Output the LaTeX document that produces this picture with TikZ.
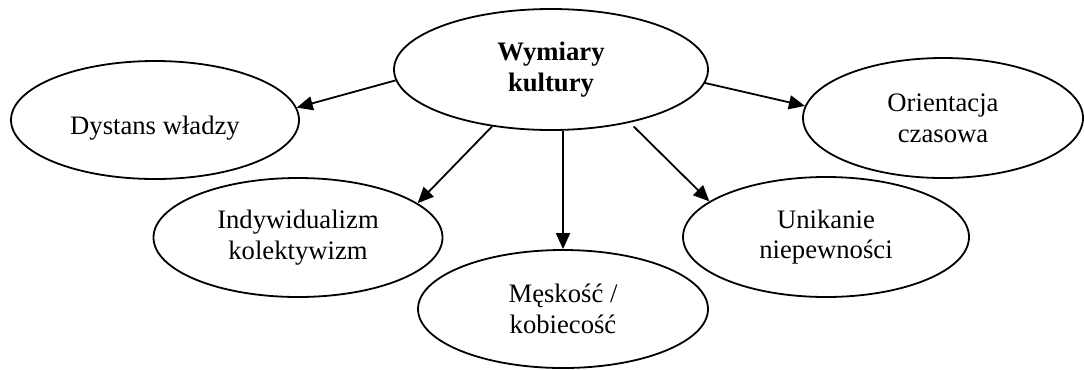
\documentclass[tikz,border=0pt]{standalone}
\usepackage{fontspec}
\setmainfont{Liberation Serif}
\usetikzlibrary{shapes.geometric,arrows.meta}

\tikzset{
  oval/.style={draw, ellipse, line width=1.35pt, inner sep=0pt, align=center,
    font=\fontsize{20}{23}\selectfont},
  link/.style={draw, line width=1.35pt,
    -{Triangle[length=12pt,width=10.5pt]}}
}

\begin{document}
\begin{tikzpicture}[x=0.75pt, y=-0.75pt]
  \useasboundingbox (0,0) rectangle (1084,369);

  % central concept
  \node[oval, minimum width=235.5pt, minimum height=90.75pt,
        font=\fontsize{20}{23}\selectfont\bfseries]
        (wk) at (551,69.5) {Wymiary\\kultury};

  % the five dimensions
  \node[oval, minimum width=216pt, minimum height=88.5pt,
        text height=26.5pt, text depth=4.5pt]
        (dw) at (155,120) {Dystans władzy};
  \node[oval, minimum width=216.75pt, minimum height=89.25pt]
        (ik) at (298,237.5) {Indywidualizm\\kolektywizm};
  \node[oval, minimum width=217.5pt, minimum height=88.5pt]
        (mk) at (563,309) {Męskość /\\kobiecość};
  \node[oval, minimum width=214.5pt, minimum height=90pt]
        (un) at (826,237) {Unikanie\\niepewności};
  \node[oval, minimum width=210pt, minimum height=90pt]
        (oc) at (943,118) {Orientacja\\czasowa};

  % connectors
  \draw[link] (wk.184.9) -- (dw.5.5);
  \draw[link] (wk.224.8) -- (ik.16.2);
  \draw[link] (mk.north |- wk.south) -- (mk.north);
  \draw[link, shorten <=4pt] (wk.326.5) -- (un.163.7);
  \draw[link] (wk.355.4) -- (oc.175.5);
\end{tikzpicture}
\end{document}
